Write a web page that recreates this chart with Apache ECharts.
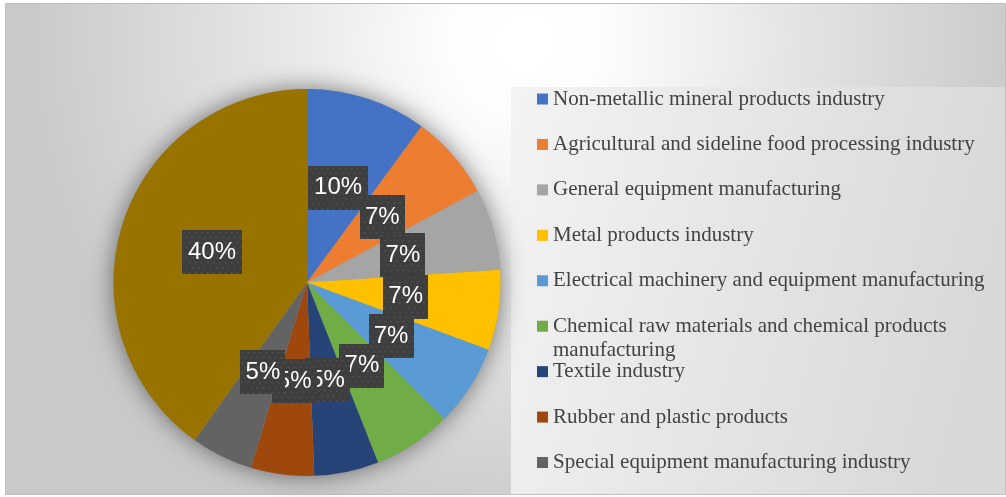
<!DOCTYPE html>
<html>
<head>
<meta charset="utf-8">
<script src="https://cdn.jsdelivr.net/npm/echarts@6/dist/echarts.min.js"></script>
<style>
  html, body { margin: 0; padding: 0; background: #ffffff; }
  #chart { width: 1006px; height: 497px; }
</style>
</head>
<body>
<div id="chart"></div>
<script>
// Industry shares (%), clockwise from 12 o'clock
const categories = [
  'Non-metallic mineral products industry',
  'Agricultural and sideline food processing industry',
  'General equipment manufacturing',
  'Metal products industry',
  'Electrical machinery and equipment manufacturing',
  'Chemical raw materials and chemical products manufacturing',
  'Textile industry',
  'Rubber and plastic products',
  'Special equipment manufacturing industry',
  'Other industries'
];
const shares = [10.1, 7.1, 6.8, 6.7, 6.8, 6.6, 5.4, 5.3, 5.2, 40.2];
const sliceColors = [
  '#4472C4', '#ED7D31', '#A5A5A5', '#FFC000', '#5B9BD5',
  '#70AD47', '#264478', '#9E480E', '#636363', '#997300'
];
// Legend shows the first nine industries
const legendNames = categories.slice(0, 9);
// Legend labels that wrap onto a second line (a blank leading line keeps
// the swatch level with the first line of text)
const legendWrap = {
  'Chemical raw materials and chemical products manufacturing':
    ' \nChemical raw materials and chemical products\nmanufacturing'
};

// Dark, dotted tile used behind the percentage labels
function makeTile(w, h) {
  const c = document.createElement('canvas');
  c.width = w; c.height = h;
  const g = c.getContext('2d');
  g.fillStyle = '#3e3e3e';
  g.fillRect(0, 0, w, h);
  g.fillStyle = 'rgba(255,255,255,0.13)';
  for (let y = 2, row = 0; y < h; y += 5, row++) {
    for (let x = (row % 2 ? 4 : 1); x < w; x += 6) {
      g.fillRect(x, y, 1.4, 1.4);
    }
  }
  return c;
}

const labelBox = {
  color: '#ffffff',
  fontFamily: 'Liberation Sans',
  fontSize: 24,
  lineHeight: 28,
  height: 44,
  padding: 0,
  align: 'center',
  verticalAlign: 'middle',
  shadowColor: 'rgba(0,0,0,0.6)',
  shadowBlur: 6,
  shadowOffsetX: 3,
  shadowOffsetY: 3
};

const chart = echarts.init(document.getElementById('chart'), null, { renderer: 'canvas' });

const pieCenter = [307, 282.5];
const pieRadius = 193.5;
const legendFirstCenter = 99;
const legendStep = 45.44;

const option = {
  animation: false,
  graphic: [
    {
      type: 'rect', z: -10, silent: true,
      shape: { x: 5.5, y: 3.5, width: 1000, height: 491 },
      style: {
        fill: {
          type: 'radial', x: 0.52, y: 0.08, r: 1.02,
          colorStops: [
            { offset: 0, color: '#ffffff' },
            { offset: 0.15, color: '#fdfdfd' },
            { offset: 0.55, color: '#e3e3e3' },
            { offset: 1, color: '#c9c9c9' }
          ]
        },
        stroke: '#bfbfbf', lineWidth: 1
      }
    },
    {
      type: 'rect', z: -9, silent: true,
      shape: { x: 511, y: 87, width: 494, height: 407 },
      style: {
        fill: {
          type: 'linear', x: 0, y: 0, x2: 1, y2: 0.3,
          colorStops: [
            { offset: 0, color: '#f3f3f3' },
            { offset: 1, color: '#d8d8d8' }
          ]
        }
      }
    }
  ],
  legend: legendNames.map((name, i) => {
    const wrapped = !!legendWrap[name];
    const centerY = legendFirstCenter + i * legendStep;
    return {
      orient: 'vertical',
      left: 537,
      top: centerY - (wrapped ? 36 : 12),
      padding: 0,
      itemGap: 0,
      itemWidth: 11,
      itemHeight: 11,
      icon: 'rect',
      selectedMode: false,
      data: [name],
      formatter: n => legendWrap[n] || n,
      textStyle: {
        fontFamily: 'Liberation Serif',
        fontSize: 21,
        lineHeight: 24,
        color: '#434343'
      }
    };
  }),
  series: [
    {
      // soft halo under the pie
      type: 'pie',
      name: 'halo',
      silent: true,
      z: 1,
      center: pieCenter,
      radius: pieRadius,
      label: { show: false },
      labelLine: { show: false },
      itemStyle: {
        color: '#999999',
        shadowBlur: 24,
        shadowColor: 'rgba(0,0,0,0.5)'
      },
      data: [{ name: 'halo', value: 1 }]
    },
    {
      type: 'pie',
      name: 'Industry share',
      z: 2,
      center: pieCenter,
      radius: pieRadius,
      startAngle: 90,
      clockwise: true,
      avoidLabelOverlap: false,
      labelLayout: { hideOverlap: false },
      itemStyle: { borderWidth: 0 },
      emphasis: { disabled: true },
      labelLine: { show: false },
      label: {
        show: true,
        position: 'inside',
        formatter: p => {
          const t = Math.round(p.percent) + '%';
          return '{' + (t.length > 2 ? 'wide' : 'narrow') + '|' + t + '}';
        },
        rich: {
          wide: Object.assign({}, labelBox, { width: 60, backgroundColor: { image: makeTile(60, 44) } }),
          narrow: Object.assign({}, labelBox, { width: 45, backgroundColor: { image: makeTile(45, 44) } })
        }
      },
      data: categories.map((name, i) => ({
        name: name,
        value: shares[i],
        itemStyle: { color: sliceColors[i] }
      }))
    }
  ]
};

chart.setOption(option);
</script>
</body>
</html>
